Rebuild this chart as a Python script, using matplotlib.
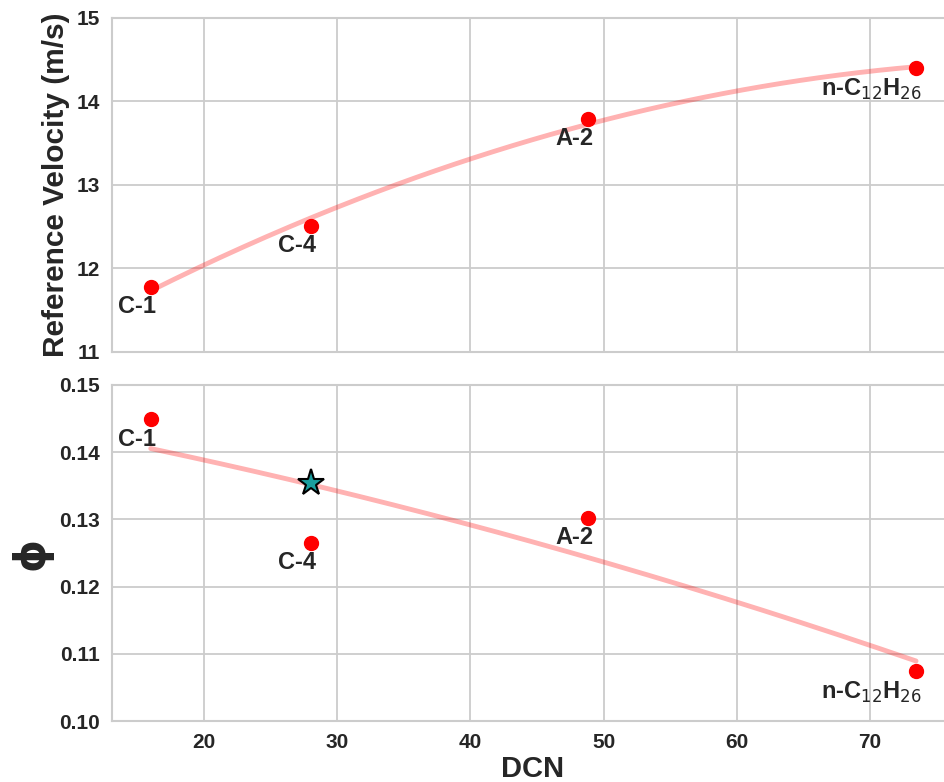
import numpy as np
import matplotlib
matplotlib.use("Agg")
import matplotlib.pyplot as plt
import seaborn as sns

# data
fuels = ["C-1", "C-4", "A-2", "n-C$_{12}$H$_{26}$"]
dcn = [16.0, 28.0, 48.8, 73.45]
ref_velocity = [11.78, 12.51, 13.79, 14.40]
phi = [0.1449, 0.1265, 0.1302, 0.1074]
star_dcn = [28.0]
star_phi = [0.1354]

sns.set_style("whitegrid")
plt.rcParams["font.family"] = ["Liberation Sans", "DejaVu Sans"]
plt.rcParams["mathtext.fontset"] = "dejavusans"

fig = plt.figure(figsize=(9.44, 7.82), dpi=100)
ax1 = fig.add_axes([0.1186, 0.5499, 0.892, 0.4271])
ax2 = fig.add_axes([0.1186, 0.0780, 0.892, 0.4297], sharex=ax1)

# quadratic fits through the measured points
x_fit = np.linspace(min(dcn), max(dcn), 200)
v_fit = np.polyval(np.polyfit(dcn, ref_velocity, 2), x_fit)
p_fit = np.polyval(np.polyfit(dcn, phi, 2), x_fit)

ax1.plot(x_fit, v_fit, color="red", alpha=0.3, lw=3.5, zorder=2)
ax1.plot(dcn, ref_velocity, "o", color="red", ms=10, zorder=3)
ax2.plot(x_fit, p_fit, color="red", alpha=0.3, lw=3.5, zorder=2)
ax2.plot(dcn, phi, "o", color="red", ms=10, zorder=3)
ax2.plot(star_dcn, star_phi, "*", color="#1a9e9e", mec="black", mew=1.5, ms=20, zorder=4)

for ax, yvals in ((ax1, ref_velocity), (ax2, phi)):
    for name, x, y in zip(fuels, dcn, yvals):
        ax.annotate(name, (x, y), xytext=(4, -6), textcoords="offset points",
                    ha="right", va="top", fontsize=17, fontweight="bold", color=".15")

ax1.set_xlim(13.09, 76.3)
ax1.set_ylim(11, 15)
ax1.set_yticks([11, 12, 13, 14, 15])
ax2.set_ylim(0.10, 0.15)
ax2.set_yticks([0.10, 0.11, 0.12, 0.13, 0.14, 0.15])
ax2.set_yticklabels(["%.2f" % t for t in ax2.get_yticks()])
ax2.set_xticks([20, 30, 40, 50, 60, 70])
plt.setp(ax1.get_xticklabels(), visible=False)

for ax in (ax1, ax2):
    ax.tick_params(labelsize=15, pad=5)
    for lab in ax.get_xticklabels() + ax.get_yticklabels():
        lab.set_fontweight("bold")
    for sp in ax.spines.values():
        sp.set_linewidth(1.5)
    ax.grid(True, lw=1.3)

ax1.set_ylabel("Reference Velocity (m/s)", fontsize=21.5, fontweight="bold", labelpad=5)
ax2.set_ylabel("ϕ", fontsize=30, fontweight="bold", family="DejaVu Sans", labelpad=5)
ax2.set_xlabel("DCN", fontsize=21, fontweight="bold", labelpad=2)

fig.savefig("out.png", dpi=100)
